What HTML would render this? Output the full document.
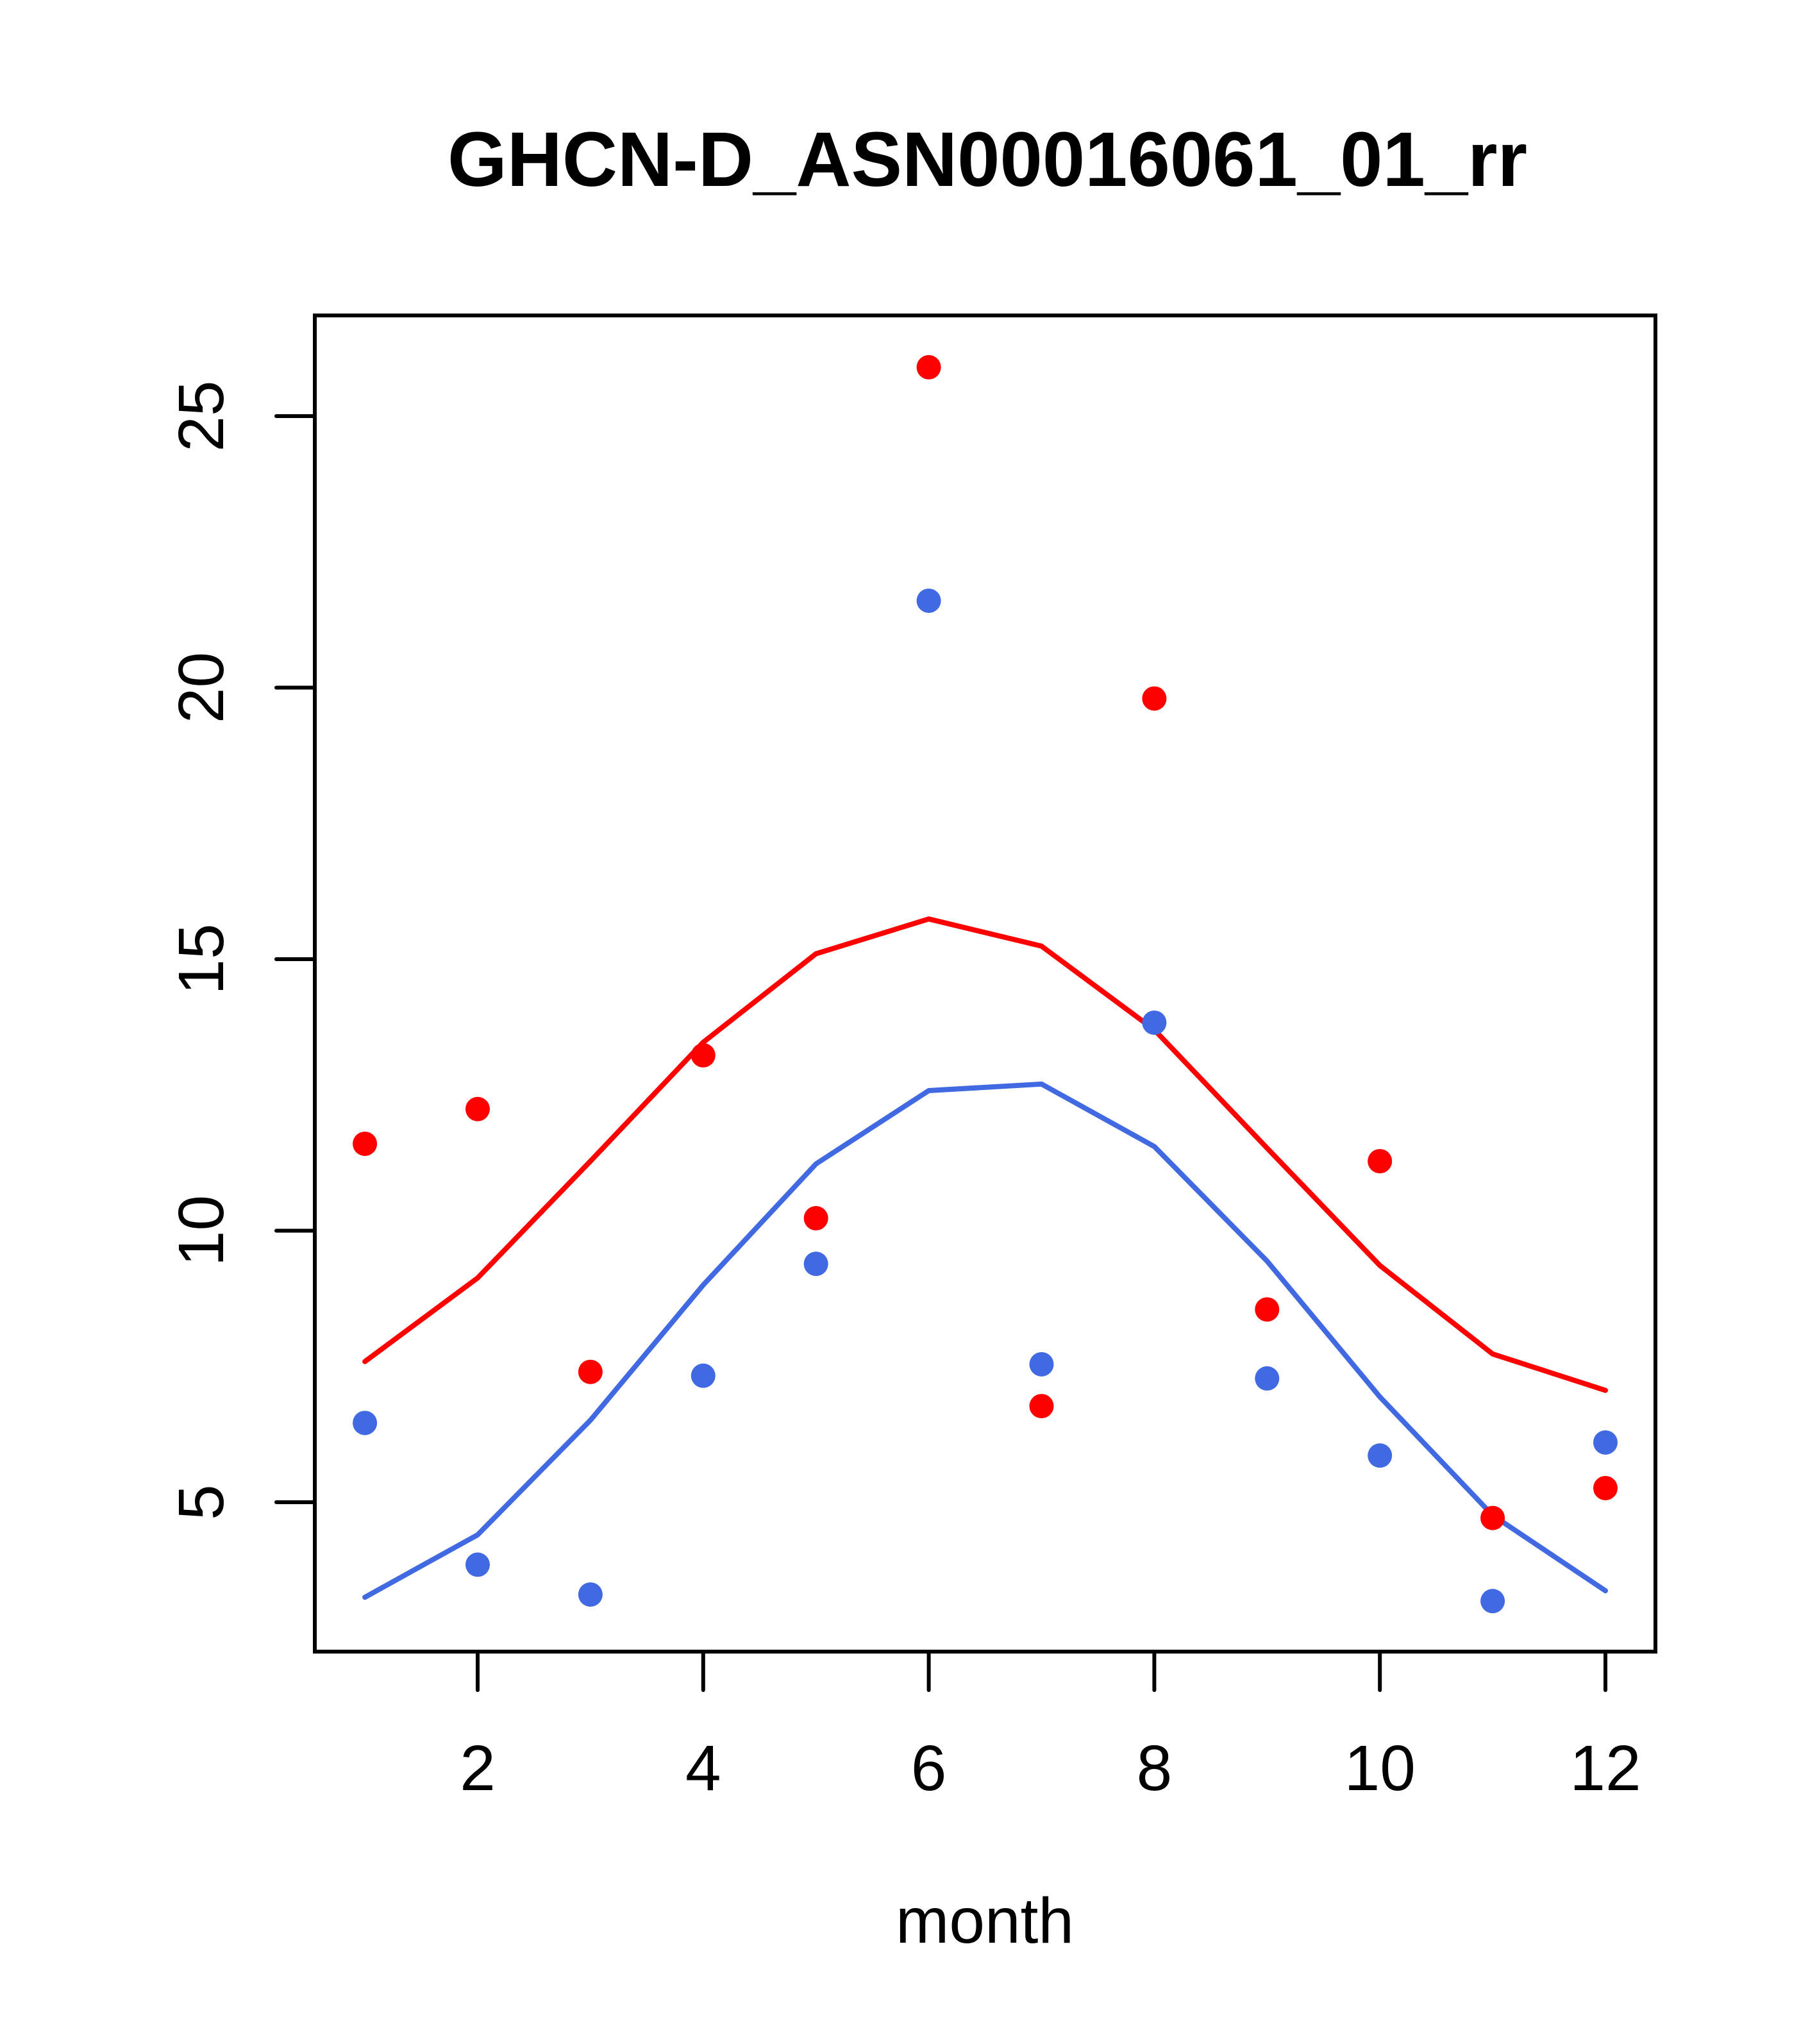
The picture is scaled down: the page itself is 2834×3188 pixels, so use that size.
<!DOCTYPE html>
<html><head><meta charset="utf-8"><style>body{margin:0;background:#fff}svg{display:block}</style></head>
<body>
<svg id="chart" width="2834" height="3188" xmlns="http://www.w3.org/2000/svg" font-family="Liberation Sans, sans-serif">
<rect width="2834" height="3188" fill="#fff"/>
<text x="1540" y="290" text-anchor="middle" font-size="121" font-weight="bold" textLength="1684" lengthAdjust="spacingAndGlyphs">GHCN-D_ASN00016061_01_rr</text>
<rect x="491" y="492" width="2091" height="2084" fill="none" stroke="#000" stroke-width="6"/>
<text x="1536" y="3030" text-anchor="middle" font-size="100">month</text>
<g id="axes"></g>
<g id="marks"></g>
</svg>
<script>
const months = [1,2,3,4,5,6,7,8,9,10,11,12];
const redPoints = [11.6,12.24,7.4,13.23,10.23,25.9,6.77,19.8,8.55,11.28,4.71,5.26];
const bluePoints = [6.46,3.85,3.3,7.33,9.39,21.6,7.54,13.83,7.28,5.86,3.18,6.1];
const redLine = [7.59,9.13,11.28,13.47,15.1,15.74,15.24,13.7,11.52,9.36,7.73,7.06];
const blueLine = [3.25,4.4,6.51,9.0,11.23,12.58,12.7,11.55,9.44,6.94,4.76,3.37];
const xTicks = [2,4,6,8,10,12];
const yTicks = [5,10,15,20,25];

const NS = "http://www.w3.org/2000/svg";
function xs(v){ return 745 + (v-2)*175.9; }
function ys(v){ return 2343 - (v-5)*84.7; }
const axes = document.getElementById('axes');
const marks = document.getElementById('marks');
function mk(tag, attrs, parent){ const e=document.createElementNS(NS,tag); for(const k in attrs) e.setAttribute(k,attrs[k]); parent.appendChild(e); return e; }

xTicks.forEach(t=>{
  const l = mk('line',{x1:xs(t),x2:xs(t),y1:2576,y2:2636,stroke:'#000','stroke-width':6,'stroke-linecap':'round'},axes);
  
  
  const tx = mk('text',{x:xs(t),y:2792,'text-anchor':'middle','font-size':100},axes);
  tx.textContent = t;
  
  
});
yTicks.forEach(t=>{
  const l = mk('line',{x1:431,x2:491,y1:ys(t),y2:ys(t),stroke:'#000','stroke-width':6,'stroke-linecap':'round'},axes);
  
  
  const tx = mk('text',{x:0,y:0,'text-anchor':'middle','font-size':100,transform:`translate(348,${ys(t)}) rotate(-90)`},axes);
  tx.textContent = t;
  
  
});

function line(vals,color,name){
  const d = vals.map((v,i)=>(i?'L':'M')+xs(months[i])+' '+ys(v)).join(' ');
  const p = mk('path',{d:d,fill:'none',stroke:color,'stroke-width':8,'stroke-linejoin':'round','stroke-linecap':'round'},marks);
  
  
}
function pts(vals,color,name){
  vals.forEach((v,i)=>{
    const c = mk('circle',{cx:xs(months[i]),cy:ys(v),r:19,fill:color},marks);
    
    
  });
}
line(redLine,'#ff0000','red-line');
line(blueLine,'#4169e1','blue-line');
pts(redPoints,'#ff0000','red-point');
pts(bluePoints,'#4169e1','blue-point');
</script>
</body></html>
